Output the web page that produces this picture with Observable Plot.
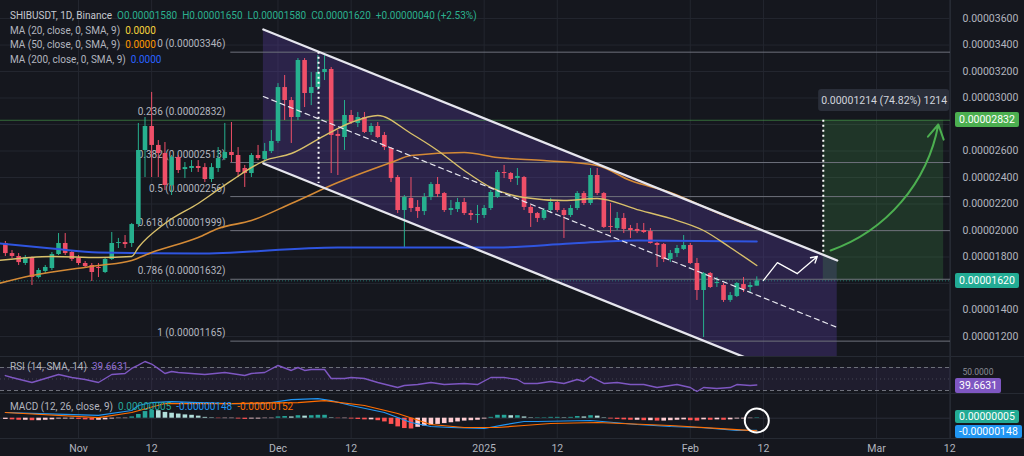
<!DOCTYPE html>
<html><head><meta charset="utf-8">
<script src="https://cdn.jsdelivr.net/npm/d3@7"></script>
<script src="https://cdn.jsdelivr.net/npm/@observablehq/plot@0.6"></script>
<style>
html,body{margin:0;padding:0;background:#15171e;}
#wrap{position:relative;width:1024px;height:456px;overflow:hidden;background:#15171e;font-family:Roboto,"Liberation Sans",sans-serif;}
#wrap svg{position:absolute;left:0;}
.leg{position:absolute;left:10px;font-size:10px;color:#b2b5be;white-space:nowrap;line-height:12px;}
.leg span{margin-right:5px;}
.tag{position:absolute;left:955px;height:15px;line-height:15px;font-size:10.5px;color:#fff;padding:0 4px;border-radius:2px;white-space:nowrap;}
.tag.small{height:13px;line-height:13px;}
.sep{position:absolute;background:#262a33;}
</style></head><body><div id="wrap"></div><script>
// ---------- DATA (prices in units of 1e-6 USDT) ----------
const candleStart = "2024-10-21";
const candleOpen  = [19.02,18.26,18.04,17.51,17.96,16.45,16.91,17.13,18.19,19.02,18.34,17.89,17.51,17.36,17.21,16.83,17.81,19.02,19.09,19.02,20.45,26.04,27.85,26.42,25.81,23.40,25.51,24.60,24.68,24.83,24.75,23.85,24.68,25.43,25.89,25.66,24.68,24.30,25.66,25.36,25.96,26.72,30.79,29.81,28.53,32.83,30.34,30.79,31.92,32.15,27.25,27.02,28.68,28.08,28.53,27.40,27.85,27.17,26.19,24.00,21.51,22.42,21.74,21.43,22.49,23.47,22.79,21.51,21.58,22.11,21.28,21.13,21.13,21.66,22.49,24.38,24.30,23.92,24.00,21.74,21.28,20.91,21.51,22.11,21.51,21.13,21.66,22.79,22.04,24.15,22.79,20.30,20.15,20.91,20.15,20.08,20.00,19.92,19.02,18.94,17.81,18.26,18.57,18.87,17.51,15.47,16.75,16.00,15.85,14.72,15.02,15.92,15.70,15.80];
const candleHigh  = [19.17,18.49,18.26,18.11,18.00,17.13,17.36,18.34,19.77,19.77,18.49,18.11,17.66,17.51,17.51,17.89,19.85,19.40,19.62,20.53,28.08,28.53,30.42,26.79,26.64,25.66,25.66,25.13,25.28,25.28,25.05,25.05,26.26,28.08,28.15,26.26,24.91,25.81,26.42,26.57,27.55,31.09,31.70,30.04,32.98,32.98,31.92,33.21,33.36,32.30,27.55,29.81,29.06,28.91,28.91,28.08,28.15,27.40,26.26,24.15,22.64,24.00,22.26,22.79,23.62,24.00,22.87,22.26,22.42,22.42,21.51,21.89,21.89,23.02,24.53,24.91,24.38,24.68,24.08,21.89,21.36,21.66,22.42,22.26,21.66,21.89,22.94,22.94,24.68,24.68,22.87,22.04,21.36,21.28,20.38,20.53,20.53,20.15,19.09,19.02,18.49,18.87,19.62,19.02,17.89,16.83,16.83,16.45,16.00,15.32,16.08,16.45,16.08,16.50];
const candleLow   = [18.04,17.89,17.36,17.36,15.85,16.35,16.75,16.98,18.11,18.11,17.66,17.36,17.13,16.15,16.45,16.75,17.74,18.64,18.64,18.72,20.23,24.00,24.00,24.00,23.02,22.64,24.30,23.92,24.38,24.38,23.62,23.62,24.38,25.28,25.13,24.00,23.25,24.00,25.28,25.13,25.81,26.57,28.30,26.57,28.30,29.28,29.43,30.57,31.32,24.30,24.15,26.04,28.00,27.77,27.32,27.17,26.94,26.04,23.62,21.28,18.64,21.36,20.91,21.13,22.26,22.49,21.36,21.13,21.36,21.13,20.75,20.53,20.91,21.51,22.42,23.92,23.62,23.40,21.51,20.23,20.60,20.75,21.28,21.36,19.40,20.98,21.51,21.89,21.89,22.64,20.15,19.77,20.00,19.77,19.40,19.77,19.77,18.98,17.21,17.58,17.58,17.96,18.49,17.43,14.72,11.92,15.62,15.70,14.57,14.57,14.94,15.32,15.25,15.80];
const candleClose = [18.26,18.04,17.58,17.96,16.45,16.98,17.21,18.19,19.02,18.26,17.81,17.51,17.28,16.83,17.13,17.81,19.02,19.09,18.94,20.45,26.04,27.85,26.42,25.81,23.40,25.51,24.53,24.75,24.83,24.68,23.85,24.75,25.43,25.89,25.66,24.38,24.30,25.66,25.43,25.96,26.72,30.79,29.81,28.53,32.83,30.34,30.79,31.92,32.15,27.17,27.10,28.68,28.15,28.53,27.40,27.85,27.02,26.26,23.92,21.51,22.49,21.66,21.43,22.49,23.47,22.72,21.51,21.66,22.11,21.28,21.13,21.21,21.66,22.87,24.38,24.30,23.85,24.08,21.74,21.28,20.91,21.51,22.11,21.51,21.13,21.66,22.79,22.04,24.15,22.79,20.23,20.23,20.91,20.08,20.00,19.92,19.85,19.02,18.87,17.81,18.26,18.64,18.87,17.51,15.47,16.75,15.70,16.08,14.72,15.09,16.00,15.55,15.85,16.20];

// moving averages (day offsets from 2024-11-01)
const ma20Days   = [-12,-4,3,8,9,13,18,23,28,32,37,41,45,50,54,58,62,67,73,78,84,89,94,98,102];
const ma20Values = [17.74,18.04,17.96,18.04,18.72,20.53,22.04,23.77,25.28,25.81,27.17,28.15,28.68,27.32,26.04,24.53,23.25,22.49,22.26,22.42,21.58,20.91,20.0,18.72,17.36];
const ma50Days   = [-12,-7,3,8,11,18,21,26,32,39,47,50,58,63,70,78,83,89,96,102];
const ma50Values = [16.0,16.6,17.36,17.74,18.34,19.47,20.15,20.75,22.04,23.62,25.13,25.66,25.89,25.51,25.28,24.91,23.77,22.87,21.36,20.15];
const ma200Days  = [-12,-4,3,18,39,63,74,84,102];
const ma200Values= [19.02,18.64,18.34,18.26,18.72,18.72,19.02,19.25,19.17];

// RSI (14)
const rsiDays   = [-11,-10,-7,-6,-3,-1,1,3,5,7,8,9,10,11,12,13,14,15,19,22,25,26,28,30,32,33,34,35,37,38,40,41,43,45,48,49,51,53,55,58,60,62,64,66,67,69,71,73,75,76,77,79,81,83,85,87,90,92,93,94,96,98,99,101,102];
const rsiValues = [56,52.6,43.9,47.4,57.8,52.6,49.1,43.9,57.8,59.6,68.3,74,80.4,76,68,59.6,63,61.3,57.8,61.3,56.1,59.6,61.3,73.5,64.8,70,64.8,66.5,66.5,50.9,50.9,52.6,50.9,43.9,35.2,38.7,40.4,43.9,40.4,42.2,40.4,52.6,52.6,49.1,42.2,42.2,45.7,42.2,49.1,45.7,54.3,42.2,43.9,40.4,40.4,35.2,40.4,35.2,28.3,35.2,33.5,35.2,40.4,38.7,39.6631];

// MACD (12, 26, 9) in units of 1e-6
const macdDays     = [-11,-7,3,8,9,11,14,18,23,28,32,36,38,41,46,50,53,56,61,64,67,69,77,84,89,94,99,102];
const macdValues   = [0.69,0.57,0.33,0.93,1.53,1.89,2.0,1.89,1.77,1.77,2.25,2.37,2.13,1.53,0.69,-0.52,-1.0,-1.12,-1.24,-0.8,-0.4,-0.4,-0.28,-0.76,-1.0,-1.15,-1.48,-1.48];
const signalDays   = [-11,3,8,13,23,33,37,43,48,53,58,63,67,71,78,89,96,102];
const signalValues = [0.69,0.08,0.69,1.77,1.77,1.89,2.13,1.53,0.57,-0.76,-1.12,-1.12,-0.88,-0.64,-0.52,-0.88,-1.24,-1.52];
const histValues   = [-0.15,-0.2,-0.25,-0.25,-0.3,-0.3,-0.25,-0.2,-0.1,-0.1,-0.1,
  -0.15,-0.2,-0.25,-0.25,-0.2,-0.1,-0.05,-0.05,
  0.15,0.45,0.8,0.95,0.9,0.7,0.6,0.5,0.4,0.35,0.25,0.1,0.05,
  -0.05,-0.05,-0.05,-0.1,-0.15,-0.1,-0.1,-0.05,-0.05,
  0.15,0.2,0.15,0.3,0.25,0.3,0.35,0.35,0.05,
  -0.05,-0.05,-0.1,-0.15,-0.2,-0.2,-0.3,
  -0.45,-0.75,-1.05,-1.25,-1.3,-1.1,-0.95,-0.85,-0.75,-0.65,-0.55,-0.45,-0.35,-0.3,-0.25,-0.1,
  0.1,0.35,0.35,0.3,0.3,0.15,0.05,0.05,0.05,0.1,0.1,0.05,0.1,0.2,0.15,0.3,0.25,
  0.05,-0.1,-0.15,-0.2,-0.25,-0.25,-0.3,-0.3,-0.35,-0.35,-0.3,-0.25,-0.2,-0.3,-0.35,-0.2,-0.25,-0.2,-0.25,-0.2,-0.1,-0.1,-0.05,0.05];
const macdLegend = ["0.00000005","-0.00000148","-0.00000152"];

// Fibonacci retracement
const fibRatios = ["0","0.236","0.382","0.5","0.618","0.786","1"];
const fibPrices = [33.46,28.32,25.13,22.56,19.99,16.32,11.65];
const fibStartDay = 22.9, fibLabelDay = 22.1;

// descending channel (day offset, price)
const channelDays  = [27.8,114.1];
const channelUpper = [35.17,17.74];
const channelMid   = [30.11,12.68];
const channelLower = [25.06,7.62];

// annotations
const markerDays = [36.1,112.0], markerTop = [33.46,28.32], markerBottom = [23.55,18.17];
const targetZone = {day1:112.0, day2:130.1, low:16.20, high:28.32};
const targetText = "0.00001214 (74.82%) 1214";
const targetBox = {day1:111.3, day2:131.0, low:28.98, high:30.64};
const greenArrow = {day1:113.1, p1:18.49, day2:129.3, p2:28.0};
const zigDays = [103.0,105.1,108.1,111.1];
const zigPrices = [16.23,17.58,16.75,18.04];

// axes
const priceTicks = [12,14,16,18,20,22,24,26,28,30,32,34,36];
const hiddenPriceLabels = [16,28]; // covered by the price tags on the right scale
const xTickDates = ["2024-11-01","2024-11-12","2024-12-01","2024-12-12","2025-01-01","2025-01-12","2025-02-01","2025-02-12","2025-03-01","2025-03-12"];
const xTickLabels = ["Nov","12","Dec","12","2025","12","Feb","12","Mar","12"];

// ---------- BUILD ----------
const E = 1e-6, DAY = 864e5;
const base = Date.parse("2024-11-01T00:00:00Z");
const at = d => new Date(base + d * DAY);
const start = Date.parse(candleStart + "T00:00:00Z");
const candles = candleOpen.map((o, i) => ({
  date: new Date(start + i * DAY), o: o * E, h: candleHigh[i] * E, l: candleLow[i] * E, c: candleClose[i] * E
}));
const UP = "#26b08e", DN = "#ef4f68";
const xDomain = [at(-11.73), at(131.13)];
const tickDates = xTickDates.map(s => new Date(s + "T00:00:00Z"));
const tickLabel = new Map(tickDates.map((d, i) => [+d, xTickLabels[i]]));
const pts = (days, vals, k = 1) => days.map((d, i) => ({x: at(d), y: vals[i] * k}));
const style = {background: "transparent", color: "#b2b5be", fontFamily: "Roboto, 'Liberation Sans', sans-serif", fontSize: "10.5px", overflow: "visible"};
const common = {width: 1024, marginLeft: 0, marginRight: 74, style};
const grid = "#23262f";

const ch = channelDays.map((d, i) => ({x: at(d), up: channelUpper[i] * E, mid: channelMid[i] * E, lo: channelLower[i] * E}));
const fib = fibPrices.map((p, i) => ({y: p * E, label: `${fibRatios[i]} (${(p * E).toFixed(8)})`}));

const main = Plot.plot({
  ...common, height: 356, marginTop: 0, marginBottom: 0,
  x: {type: "utc", domain: xDomain, axis: null},
  y: {domain: [10.49 * E, 37.36 * E]},
  marks: [
    Plot.gridX(tickDates, {stroke: grid, strokeOpacity: 1}),
    Plot.gridY(priceTicks.map(v => v * E), {stroke: grid, strokeOpacity: 1}),
    Plot.areaY(ch, {x: "x", y1: "lo", y2: "up", fill: "#5b3fa6", fillOpacity: 0.32, clip: true}),
    Plot.rect([targetZone], {x1: d => at(d.day1), x2: d => at(d.day2), y1: d => d.low * E, y2: d => d.high * E, fill: "#4caf50", fillOpacity: 0.2}),
    Plot.ruleY(fib.filter((d, i) => i !== 1), {y: "y", x1: at(fibStartDay), x2: xDomain[1], stroke: "#6e717b", strokeWidth: 1}),
    Plot.ruleY([fib[1]], {y: "y", stroke: "#4caf50", strokeOpacity: 0.55, strokeWidth: 1}),
    Plot.ruleY([candleClose[candleClose.length - 1] * E], {stroke: "#26a69a", strokeOpacity: 0.6, strokeDasharray: "1,2"}),
    Plot.text(fib, {x: at(fibLabelDay), y: "y", text: "label", textAnchor: "end", dy: -8, fill: "#b2b5be", fontSize: 10}),
    Plot.ruleX(candles, {x: "date", y1: "l", y2: "h", stroke: d => d.c >= d.o ? UP : DN, strokeWidth: 1}),
    Plot.ruleX(candles, {x: "date", y1: "o", y2: "c", stroke: d => d.c >= d.o ? UP : DN, strokeWidth: 4.6}),
    Plot.line(pts(ma200Days, ma200Values, E), {x: "x", y: "y", stroke: "#2f55e0", strokeWidth: 2, curve: "monotone-x", clip: true}),
    Plot.line(pts(ma50Days, ma50Values, E), {x: "x", y: "y", stroke: "#d48a36", strokeWidth: 1.6, curve: "monotone-x", clip: true}),
    Plot.line(pts(ma20Days, ma20Values, E), {x: "x", y: "y", stroke: "#d9c06a", strokeWidth: 1.4, curve: "monotone-x", clip: true}),
    Plot.line(ch, {x: "x", y: "up", stroke: "#e6e6ee", strokeWidth: 2.3}),
    Plot.line(ch, {x: "x", y: "lo", stroke: "#e6e6ee", strokeWidth: 2.3, clip: true}),
    Plot.line(ch, {x: "x", y: "mid", stroke: "#e6e6ee", strokeWidth: 1.2, strokeDasharray: "5,4"}),
    Plot.ruleX(markerDays, {x: d => at(d), y1: (d, i) => markerTop[i] * E, y2: (d, i) => markerBottom[i] * E, stroke: "#ffffff", strokeWidth: 2, strokeDasharray: "2,3"}),
    Plot.arrow([greenArrow], {x1: d => at(d.day1), y1: d => d.p1 * E, x2: d => at(d.day2), y2: d => d.p2 * E, bend: -30, stroke: "#4caf50", strokeWidth: 2, headLength: 12}),
    Plot.line(pts(zigDays.slice(0, 3), zigPrices.slice(0, 3), E), {x: "x", y: "y", stroke: "#ffffff", strokeWidth: 1.3}),
    Plot.arrow([0], {x1: at(zigDays[2]), y1: zigPrices[2] * E, x2: at(zigDays[3]), y2: zigPrices[3] * E, stroke: "#ffffff", strokeWidth: 1.3, headLength: 8}),
    Plot.rect([targetBox], {x1: d => at(d.day1), x2: d => at(d.day2), y1: d => d.low * E, y2: d => d.high * E, fill: "#2a2e39", rx: 3}),
    Plot.text([targetText], {x: at((targetBox.day1 + targetBox.day2) / 2), y: (targetBox.low + targetBox.high) / 2 * E, text: d => d, fill: "#d1d4dc", fontSize: 10.5}),
    Plot.axisY(priceTicks.filter(v => !hiddenPriceLabels.includes(v)).map(v => v * E), {anchor: "right", tickSize: 0, tickPadding: 12, tickFormat: d => d.toFixed(8), fill: "#b2b5be", label: null})
  ]
});

const rsiPlot = Plot.plot({
  ...common, height: 37, marginTop: 0, marginBottom: 0,
  x: {type: "utc", domain: xDomain, axis: null},
  y: {domain: [24.8, 89.1], axis: null},
  marks: [
    Plot.gridX(tickDates, {stroke: grid, strokeOpacity: 1}),
    Plot.rect([0], {x1: xDomain[0], x2: xDomain[1], y1: 30, y2: 70, fill: "#7e57c2", fillOpacity: 0.1}),
    Plot.ruleY([70, 30], {stroke: "#6e717b", strokeDasharray: "4,3"}),
    Plot.ruleY([50], {stroke: "#6e717b", strokeOpacity: 0.5, strokeDasharray: "1,3"}),
    Plot.line(pts(rsiDays, rsiValues), {x: "x", y: "y", stroke: "#7e57c2", strokeWidth: 1.4}),
    Plot.text(["50.0000"], {x: xDomain[1], y: 50, dx: 12, dy: -7, textAnchor: "start", fill: "#8a8d96", fontSize: 8.5, text: d => d})
  ]
});

const hist = histValues.map((v, i) => {
  const prev = i ? histValues[i - 1] : v;
  const color = v >= 0 ? (v >= prev ? "#26a69a" : "#b2dfdb") : (v < prev ? "#ff5252" : "#ffcdd2");
  return {x: new Date(start + i * DAY), y: v * E, color};
});
const macdPlot = Plot.plot({
  ...common, height: 63, marginTop: 0, marginBottom: 18,
  x: {type: "utc", domain: xDomain},
  y: {domain: [-2.45 * E, 2.98 * E], axis: null},
  marks: [
    Plot.gridX(tickDates, {stroke: grid, strokeOpacity: 1}),
    Plot.ruleY([0], {stroke: "#2a2e39"}),
    Plot.ruleX(hist, {x: "x", y1: 0, y2: "y", stroke: "color", strokeWidth: 4.6}),
    Plot.line(pts(macdDays, macdValues, E), {x: "x", y: "y", stroke: "#2196f3", strokeWidth: 1.2}),
    Plot.line(pts(signalDays, signalValues, E), {x: "x", y: "y", stroke: "#ff6d00", strokeWidth: 1.2}),
    Plot.dot([hist[hist.length - 1]], {x: "x", y: -0.28 * E, r: 12, stroke: "#ffffff", strokeWidth: 2, fill: "none"}),
    Plot.axisX(tickDates, {tickSize: 0, tickPadding: 6, tickFormat: d => tickLabel.get(+d), fill: "#b2b5be", label: null})
  ]
});

const wrap = document.getElementById("wrap");
main.style.top = "0px"; rsiPlot.style.top = "356px"; macdPlot.style.top = "393px";
wrap.append(main, rsiPlot, macdPlot);

// pane separators
[[0, 356, 1024, 1], [0, 393, 1024, 1], [0, 438, 1024, 1], [950, 0, 1, 438]].forEach(([l, t, w, h]) => {
  const s = document.createElement("div"); s.className = "sep";
  Object.assign(s.style, {left: l + "px", top: t + "px", width: w + "px", height: h + "px"});
  wrap.append(s);
});

// legends
function legend(top, parts) {
  const div = document.createElement("div"); div.className = "leg"; div.style.top = top + "px";
  parts.forEach(([t, c]) => { const s = document.createElement("span"); s.textContent = t; if (c) s.style.color = c; div.append(s); });
  wrap.append(div);
}
const last = candles[candles.length - 1];
const G = "#2bb08e";
const chg = last.c - last.o;
legend(10, [["SHIBUSDT, 1D, Binance", "#c5c8cf"], ["O" + last.o.toFixed(8), G], ["H" + last.h.toFixed(8), G], ["L" + last.l.toFixed(8), G], ["C" + last.c.toFixed(8), G],
  ["+" + chg.toFixed(8) + " (+" + (chg / last.o * 100).toFixed(2) + "%)", G]]);
legend(25, [["MA (20, close, 0, SMA, 9)"], ["0.0000", "#f5d33c"]]);
legend(39, [["MA (50, close, 0, SMA, 9)"], ["0.0000", "#ff9800"]]);
legend(54, [["MA (200, close, 0, SMA, 9)"], ["0.0000", "#2962ff"]]);
const rsiLast = rsiValues[rsiValues.length - 1].toFixed(4);
legend(361, [["RSI (14, SMA, 14)"], [rsiLast, "#8e6bd0"]]);
legend(401, [["MACD (12, 26, close, 9)"], [macdLegend[0], "#26a69a"], [macdLegend[1], "#2196f3"], [macdLegend[2], "#ff6d00"]]);

// right-scale tags
function tag(y, text, bg, h = 15) {
  const t = document.createElement("div"); t.className = "tag" + (h < 15 ? " small" : ""); t.textContent = text;
  t.style.top = (y - h / 2) + "px"; t.style.background = bg; wrap.append(t);
}
const ys = main.scale("y"), rs = rsiPlot.scale("y"), ms = macdPlot.scale("y");
tag(ys.apply(fibPrices[1] * E), (fibPrices[1] * E).toFixed(8), "#4caf50");
tag(ys.apply(last.c), last.c.toFixed(8), "#22ab94");
tag(356 + rs.apply(+rsiLast) + 1, rsiLast, "#7e57c2");
tag(393 + ms.apply(0.05 * E) - 1, macdLegend[0], "#22ab94", 13);
tag(393 + ms.apply(-1.48 * E) + 1.5, macdLegend[1], "#2196f3", 13);
</script></body></html>
